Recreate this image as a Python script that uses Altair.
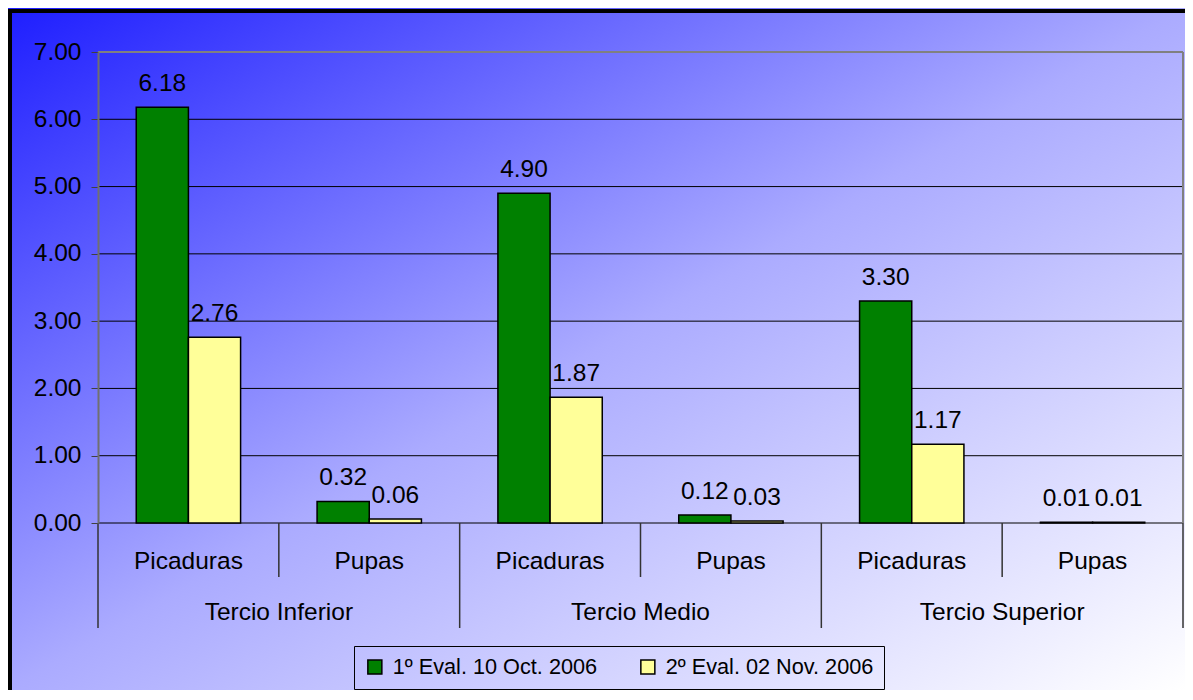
import altair as alt
import pandas as pd

groups = ["Tercio Inferior", "Tercio Medio", "Tercio Superior"]
subs = ["Picaduras", "Pupas"]
series = ["1º Eval. 10 Oct. 2006", "2º Eval. 02 Nov. 2006"]
eval1 = [6.18, 0.32, 4.90, 0.12, 3.30, 0.01]
eval2 = [2.76, 0.06, 1.87, 0.03, 1.17, 0.01]
y_ticks = [0, 1, 2, 3, 4, 5, 6, 7]
colors = ["#008000", "#FFFF99"]

FONT = "Liberation Sans"
FS = 24.5
W, H = 1085, 471

cats = [f"{g}|{s}" for g in groups for s in subs]
rows = []
for i, c in enumerate(cats):
    g, s = c.split("|")
    rows.append({"cat": c, "group": g, "sub": s, "series": series[0], "value": eval1[i]})
    rows.append({"cat": c, "group": g, "sub": s, "series": series[1], "value": eval2[i]})
df = pd.DataFrame(rows)
cat_df = pd.DataFrame({"cat": cats, "sub": [c.split("|")[1] for c in cats]})
starts_df = pd.DataFrame({"cat": [f"{g}|{subs[0]}" for g in groups]})
mids_df = pd.DataFrame({"cat": [f"{g}|{subs[1]}" for g in groups], "group": groups})
end_df = pd.DataFrame({"cat": [cats[-1]]})
ticks_df = pd.DataFrame({"v": y_ticks})
one = pd.DataFrame({"k": [0]})

xscale = alt.Scale(paddingInner=0, paddingOuter=0)


def xenc(bp=None):
    if bp is None:
        return alt.X("cat:N", sort=cats, scale=xscale, axis=None)
    return alt.X("cat:N", sort=cats, scale=xscale, axis=None, bandPosition=bp)


yscale = alt.Scale(domain=[0, 7], nice=False)
yaxis = alt.Axis(
    values=y_ticks, format=".2f", title=None, grid=False, zindex=1,
    labelFont=FONT, labelFontSize=FS, labelColor="black", labelPadding=10,
    domainColor="#707070", domainWidth=2, tickColor="#404040", tickSize=7, tickWidth=1,
)

gradient = {
    "gradient": "linear", "x1": 0, "y1": 0, "x2": 1, "y2": 1,
    "stops": [
        {"offset": 0, "color": "#1E1EFF"},
        {"offset": 0.5, "color": "#ABABFF"},
        {"offset": 1, "color": "#FFFFFF"},
    ],
}

BOTTOM = 638
RIGHT = W + 2
bg = alt.Chart(one).mark_rect(fill=gradient).encode(
    x=alt.value(-90), x2=alt.value(RIGHT), y=alt.value(-44), y2=alt.value(BOTTOM)
)
top_border = alt.Chart(one).mark_rect(fill="black").encode(
    x=alt.value(-90), x2=alt.value(RIGHT), y=alt.value(-43), y2=alt.value(-39)
)
left_border = alt.Chart(one).mark_rect(fill="black").encode(
    x=alt.value(-90), x2=alt.value(-86), y=alt.value(-43), y2=alt.value(BOTTOM)
)

grid = alt.Chart(ticks_df).mark_rule().encode(
    y=alt.Y("v:Q", scale=yscale, axis=yaxis),
    color=alt.condition(alt.datum.v == 7, alt.value("#808080"), alt.value("black")),
    strokeWidth=alt.condition(alt.datum.v == 7, alt.value(2), alt.value(1)),
)
right_frame = alt.Chart(end_df).mark_rule(color="#808080", strokeWidth=2).encode(x=xenc(1))

offset_enc = alt.XOffset("series:N", sort=series,
                         scale=alt.Scale(paddingInner=0, paddingOuter=0.733))

bars = alt.Chart(df).mark_bar(stroke="black", strokeWidth=1.5).encode(
    x=xenc(),
    xOffset=offset_enc,
    y=alt.Y("value:Q", scale=yscale, axis=yaxis),
    color=alt.Color(
        "series:N", sort=series, scale=alt.Scale(domain=series, range=colors),
        legend=alt.Legend(
            title=None, orient="none", legendX=256, legendY=594, direction="horizontal",
            symbolType="square", symbolSize=196, symbolStrokeColor="black",
            symbolStrokeWidth=1.5, labelFont=FONT, labelFontSize=21.7, labelColor="black",
            labelOffset=7, labelLimit=600, columnPadding=39, strokeColor="black",
            padding=10,
        ),
    ),
)

labels = alt.Chart(df).mark_text(
    dy=-23, font=FONT, fontSize=FS, color="black", baseline="middle"
).encode(
    x=xenc(),
    xOffset=offset_enc,
    y=alt.Y("value:Q", scale=yscale, axis=yaxis),
    text=alt.Text("value:Q", format=".2f"),
)

short_seps = alt.Chart(mids_df).mark_rule(color="#333333", strokeWidth=1.5).encode(
    x=xenc(0), y=alt.value(H), y2=alt.value(H + 54)
)
long_seps = alt.Chart(starts_df).mark_rule(color="#333333", strokeWidth=1.5).encode(
    x=xenc(0), y=alt.value(H), y2=alt.value(H + 105)
)
end_sep = alt.Chart(end_df).mark_rule(color="#333333", strokeWidth=1.5).encode(
    x=xenc(1), y=alt.value(H), y2=alt.value(H + 105)
)

sub_labels = alt.Chart(cat_df).mark_text(
    font=FONT, fontSize=FS, color="black", baseline="middle"
).encode(x=xenc(), y=alt.value(H + 39), text="sub:N")

group_labels = alt.Chart(mids_df).mark_text(
    font=FONT, fontSize=FS, color="black", baseline="middle"
).encode(x=xenc(0), y=alt.value(H + 90), text="group:N")

chart = alt.layer(
    bg, top_border, left_border, grid, right_frame, bars, labels,
    short_seps, long_seps, end_sep, sub_labels, group_labels,
).properties(
    width=W, height=H, padding=0
).configure_view(stroke="transparent")

chart.save("out.html", embed_options={"renderer": "svg", "actions": False})
